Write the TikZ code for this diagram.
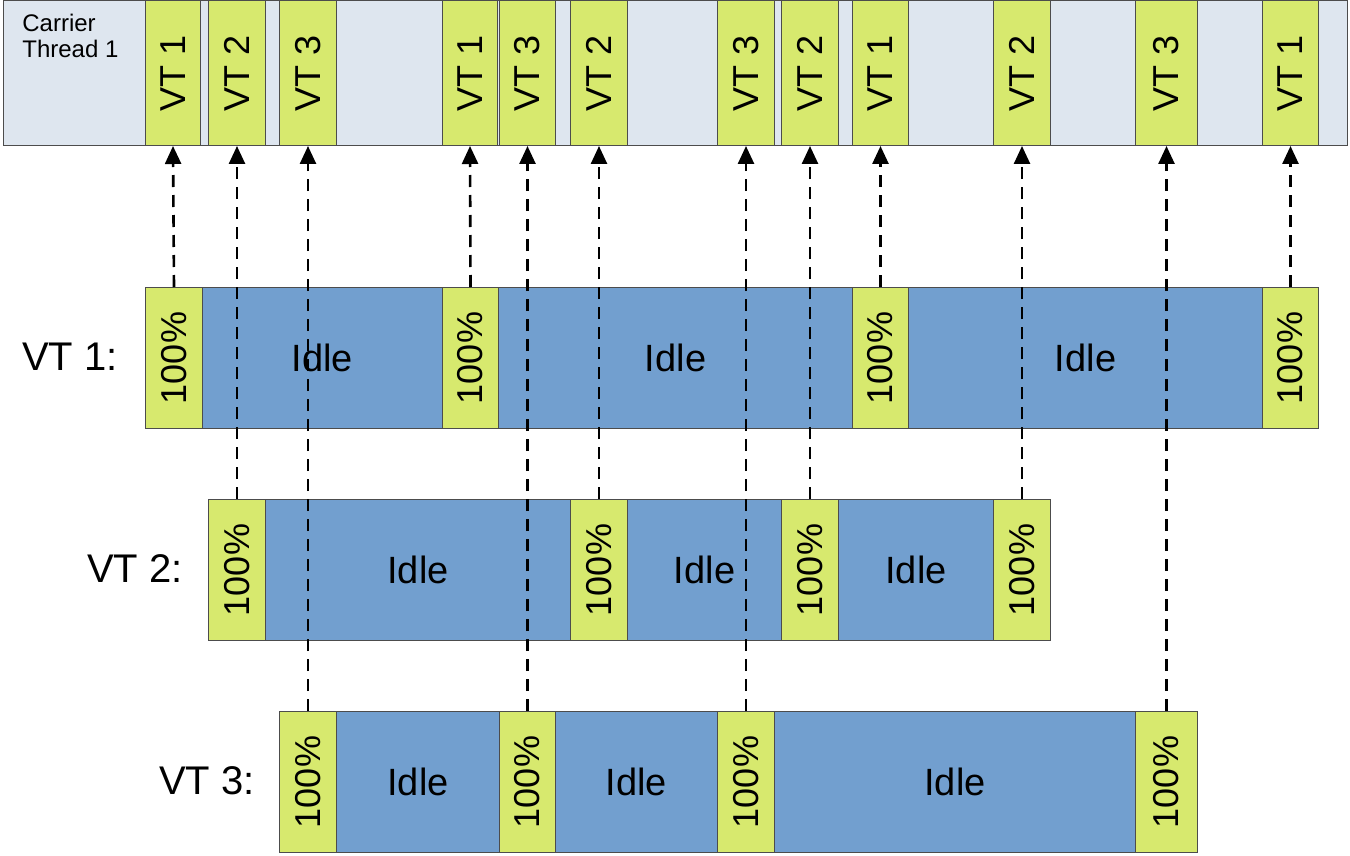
\documentclass[tikz,border=0pt]{standalone}
\usepackage{fontspec}
\setmainfont{Liberation Sans}
\usetikzlibrary{arrows.meta}
\begin{document}
\begin{tikzpicture}[x=0.5pt,y=-0.5pt,
  box/.style={draw=black!70,line width=0.5pt,inner sep=0pt,anchor=north west},
  g/.style={box,fill=green1},
  idle/.style={box,fill=blue1,font=\fontsize{19}{19}\selectfont},
  lab/.style={font=\fontsize{20}{20}\selectfont},
  con/.style={dashed,line width=1.3pt,dash pattern=on 6pt off 4pt,-{Triangle[length=9pt,width=8pt]}}]
\definecolor{green1}{HTML}{D7E96E}
\definecolor{blue1}{HTML}{729FCF}
\definecolor{gray1}{HTML}{DEE6EF}
\useasboundingbox (0,0) rectangle (1350,856);
% carrier
\node[box,fill=gray1,minimum width=1344*0.5pt,minimum height=145*0.5pt] (car) at (3,0) {};
\node[anchor=north west,align=left,font=\fontsize{12}{13}\selectfont,inner sep=0pt] (cl) at (22,14) {Carrier\\Thread 1};
\foreach \n/\a/\b/\t in {c1/145/200/VT 1,c2/208/265/VT 2,c3/279/336/VT 3,c4/442/497/VT 1,c5/499/555/VT 3,c6/570/627/VT 2,c7/717/774/VT 3,c8/781/838/VT 2,c9/852/908/VT 1,c10/993/1050/VT 2,c11/1135/1197/VT 3,c12/1262/1318/VT 1}{
  \node[g,minimum width={(\b-\a)*0.5pt},minimum height=145*0.5pt] (\n) at (\a,0) {};
  \node[rotate=90,font=\fontsize{18}{18}\selectfont] at (\n.center) {\t};
}
% rows
\foreach \r/\y/\lx/\lt in {r1/287/70/VT 1:,r2/499/135/VT 2:,r3/711/207/VT 3:}{
  \node[lab] (\r l) at (\lx,\y+70) {\lt};
}
\newcommand\rowbars[2]{%
 \foreach \n/\a/\b/\k in {#2}{
  \ifnum\k=1
   \node[g,minimum width={(\b-\a)*0.5pt},minimum height=141*0.5pt] (\n) at (\a,#1) {};
   \node[rotate=90,font=\fontsize{18}{18}\selectfont] at (\n.center) {100\%};
  \else
   \node[idle,minimum width={(\b-\a)*0.5pt},minimum height=141*0.5pt] (\n) at (\a,#1) {Idle};
  \fi}}
\rowbars{287}{a1/145/202/1,a2/202/442/0,a3/442/498/1,a4/498/852/0,a5/852/908/1,a6/908/1262/0,a7/1262/1318/1}
\rowbars{499}{b1/208/265/1,b2/265/570/0,b3/570/627/1,b4/627/781/0,b5/781/838/1,b6/838/993/0,b7/993/1050/1}
\rowbars{711}{d1/279/336/1,d2/336/499/0,d3/499/555/1,d4/555/717/0,d5/717/774/1,d6/774/1135/0,d7/1135/1197/1}
% connectors
\foreach \s/\t in {a1/c1,a3/c4,a5/c9,a7/c12,b1/c2,b3/c6,b5/c8,b7/c10,d1/c3,d3/c5,d5/c7,d7/c11}{
  \draw[con] (\s.north) -- (\t.south);
}
\end{tikzpicture}
\end{document}
